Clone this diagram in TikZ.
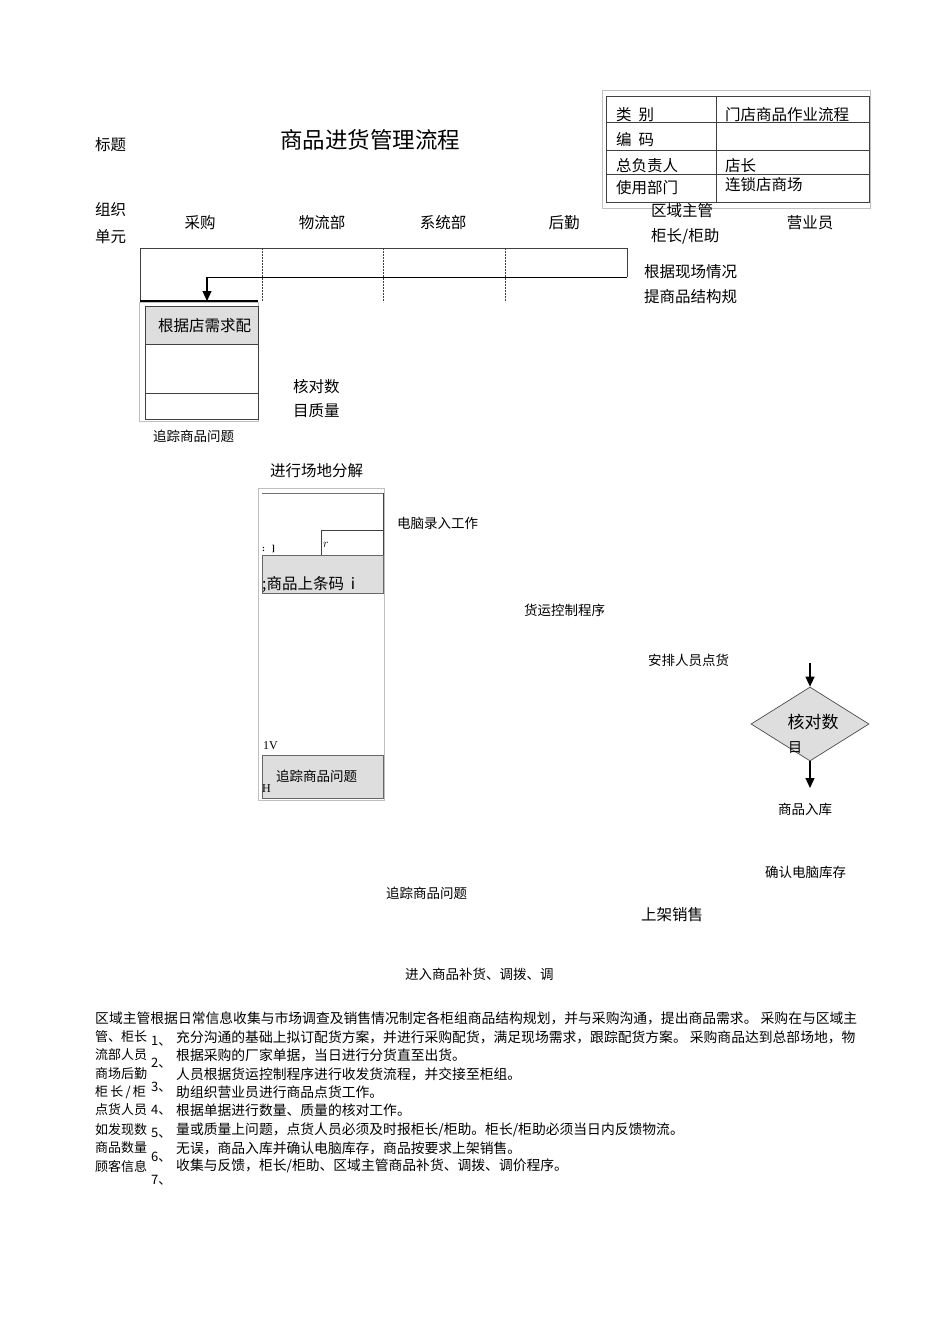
\documentclass[tikz,border=0pt]{standalone}
\usepackage{fontspec}
\setmainfont{Liberation Serif}
\newfontfamily\cjk{Noto Sans CJK SC}
\usetikzlibrary{shapes.geometric,arrows.meta}
\tikzset{
 t/.style={font=\cjk\fontsize{15.5}{17}\selectfont,inner sep=0pt,anchor=west},
 ts/.style={font=\cjk\fontsize{13.5}{15}\selectfont,inner sep=0pt,anchor=west},
 tp/.style={font=\cjk\fontsize{13.8}{16}\selectfont,inner sep=0pt,anchor=west},
 tq/.style={font=\cjk\fontsize{13}{15}\selectfont,inner sep=0pt,anchor=west},
 tl/.style={font=\cjk\fontsize{15.5}{17}\selectfont,inner sep=0pt,anchor=west},
 ln/.style={draw=black!75,line width=0.7pt},
 lt/.style={draw=black!25,line width=0.6pt},
 gbox/.style={draw=black!60,fill=black!13,line width=0.7pt},
 arr/.style={-{Triangle[length=10pt,width=9pt]},line width=1.2pt}
}
\begin{document}
\begin{tikzpicture}[x=1pt,y=-1pt]
\useasboundingbox[fill=white] (0,0) rectangle (950,1344);
% info table
\draw[lt] (602,90) rectangle (870,208);
\draw[ln] (606,96) rectangle (869,202);
\draw[ln] (716,96) -- (716,202);
\foreach \y in {122,150,174} \draw[ln] (606,\y) -- (869,\y);
\node[t] (c1) at (616,115) {类\ \ 别};
\node[t] (c2) at (725,115) {门店商品作业流程};
\node[t] (c3) at (616,140) {编\ \ 码};
\node[t] (c4) at (616,166) {总负责人};
\node[t] (c5) at (725,166) {店长};
\node[t] (c6) at (616,188) {使用部门};
\node[t] (c7) at (725,185) {连锁店商场};
% title
\node[t] (lbl) at (95,145) {标题};
\node[font=\cjk\fontsize{22.5}{25}\selectfont,inner sep=0pt] (title) at (370,140) {商品进货管理流程};
% header
\node[t] (org1) at (95,210) {组织};
\node[t] (org2) at (95,237) {单元};
\node[t,anchor=center] (h1) at (200,223) {采购};
\node[t,anchor=center] (h2) at (322,223) {物流部};
\node[t,anchor=center] (h3) at (443,223) {系统部};
\node[t,anchor=center] (h4) at (564,223) {后勤};
\node[t] (h5) at (651,211) {区域主管};
\node[t] (h5b) at (651,236) {柜长/柜助};
\node[t,anchor=center] (h6) at (810,223) {营业员};
% swimlane frame
\draw[ln] (140,248) -- (627,248) -- (627,277);
\draw[ln] (140,248) -- (140,302);
\draw[line width=1.6pt] (140,301) -- (258,301);
\foreach \x in {262,383,505} \draw[ln,dashed,dash pattern=on 2pt off 1pt] (\x,248) -- (\x,302);
\coordinate (ra) at (627,277);
\coordinate (rb) at (207,277);
\coordinate (rc) at (207,301);
\draw[line width=1pt] (ra) -- (rb);
\draw[arr] (rb) -- (rc);
\node[t] (n1) at (644,272) {根据现场情况};
\node[t] (n1b) at (644,297) {提商品结构规};
% left box
\draw[lt] (139,302) rectangle (258,421);
\draw[ln] (145,306) rectangle (258,419);
\fill[black!13] (145.5,306.5) rectangle (257.5,344);
\draw[ln] (145,344) -- (258,344);
\draw[ln] (145,393) -- (258,393);
\node[t] (b1) at (158,326) {根据店需求配};
\node[t] (k1) at (293,387) {核对数};
\node[t] (k2) at (293,411) {目质量};
\node[ts] (z1) at (153,436) {追踪商品问题};
\node[t] (s1) at (270,471) {进行场地分解};
% middle column
\draw[lt] (258,488) rectangle (384,800);
\draw[draw=black!55,line width=1pt] (262,493) -- (383,493);
\draw[ln] (383,493) -- (383,555);
\draw[ln] (321,555) -- (321,530) -- (383,530);
\node[font=\itshape\large,inner sep=0pt] (r1) at (326,545) {$r$};
\node[font=\bfseries\small,inner sep=0pt,anchor=west] (r2) at (262,549) {:\ \ \ ]};
\draw[gbox] (262,555) rectangle (383,593);
\node[t] (m1) at (262,584) {;商品上条码\ \ i};
\node[font=\large,inner sep=0pt,anchor=west] (v1) at (263,746) {1V};
\draw[gbox] (262,755) rectangle (383,798);
\node[ts] (m2) at (276,776) {追踪商品问题};
\node[font=\large,inner sep=0pt,anchor=west] (hh) at (262,789) {H};
\node[ts] (e1) at (397,523) {电脑录入工作};
\node[ts] (e2) at (524,610) {货运控制程序};
\node[ts] (e3) at (648,660) {安排人员点货};
% diamond
\node[diamond,draw=black!70,fill=black!13,line width=0.7pt,minimum width=118pt,minimum height=74pt,inner sep=0pt,aspect=1.6] (d) at (810,724) {};
\node[font=\cjk\fontsize{17}{19}\selectfont,inner sep=0pt] (dt) at (813,722) {核对数};
\node[font=\cjk\fontsize{14}{16}\selectfont,inner sep=0pt] (dt2) at (795,748) {目};
\coordinate (da) at (810,663);
\coordinate (db) at (810,788);
\draw[arr] (da) -- (d.north);
\draw[arr] (d.south) -- (db);
\node[ts] (f1) at (778,809) {商品入库};
\node[ts] (f2) at (765,872) {确认电脑库存};
\node[ts] (f3) at (386,893) {追踪商品问题};
\node[tl] (f4) at (641,915) {上架销售};
\node[ts] (f5) at (405,974) {进入商品补货、调拨、调};
% bottom text
\begin{scope}[every node/.style={tp}]
\node (p1) at (95,1018) {区域主管根据日常信息收集与市场调查及销售情况制定各柜组商品结构规划，并与采购沟通，提出商品需求。\ 采购在与区域主};
\node (p2b) at (176,1037) {充分沟通的基础上拟订配货方案，并进行采购配货，满足现场需求，跟踪配货方案。\ 采购商品达到总部场地，物};
\node (p3b) at (176,1055) {根据采购的厂家单据，当日进行分货直至出货。};
\node (p4b) at (176,1074) {人员根据货运控制程序进行收发货流程，并交接至柜组。};
\node (p5b) at (176,1092) {助组织营业员进行商品点货工作。};
\node (p6b) at (176,1110) {根据单据进行数量、质量的核对工作。};
\node (p7b) at (176,1130) {量或质量上问题，点货人员必须及时报柜长/柜助。柜长/柜助必须当日内反馈物流。};
\node (p8b) at (176,1148) {无误，商品入库并确认电脑库存，商品按要求上架销售。};
\node (p9b) at (176,1166) {收集与反馈，柜长/柜助、区域主管商品补货、调拨、调价程序。};
\end{scope}
\begin{scope}[every node/.style={tq}]
\node (p2) at (95,1037) {管、柜长};
\node (p3) at (95,1055) {流部人员};
\node (p4) at (95,1074) {商场后勤};
\node (p5) at (95,1092) {柜\,长\,/\,柜};
\node (p6) at (95,1110) {点货人员};
\node (p7) at (95,1130) {如发现数};
\node (p8) at (95,1148) {商品数量};
\node (p9) at (95,1166) {顾客信息};
\node (q1) at (151,1041) {1、};
\node (q2) at (151,1063) {2、};
\node (q3) at (151,1087) {3、};
\node (q4) at (151,1110) {4、};
\node (q5) at (151,1133) {5、};
\node (q6) at (151,1157) {6、};
\node (q7) at (151,1180) {7、};
\end{scope}
\end{tikzpicture}
\end{document}
